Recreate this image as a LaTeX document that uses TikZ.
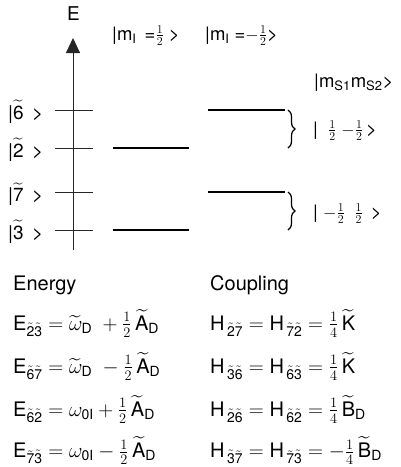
\documentclass[tikz,border=0pt]{standalone}
\usepackage{amsmath}
\usepackage{fontspec}
\setmainfont{TeX Gyre Heros}
\usetikzlibrary{arrows.meta,decorations.pathreplacing}
\newcommand{\tl}[1]{\widetilde{\mathrm{#1}}}
\newcommand{\ts}[1]{\tilde{\mathrm{#1}}}
\newcommand{\rmx}[1]{\mathrm{#1}}
\begin{document}
\begin{tikzpicture}[x=1pt,y=-1pt,
  thinline/.style={line width=0.9pt,black!85},
  levelline/.style={line width=2.6pt},
  bracestyle/.style={decorate,decoration={brace,amplitude=7pt},line width=1.2pt},
  lbl/.style={font=\fontsize{19}{21}\selectfont,inner sep=0pt},
  toplbl/.style={font=\fontsize{18.5}{20}\selectfont,inner sep=0pt,anchor=base west},
  eq/.style={font=\fontsize{20}{24}\selectfont,inner sep=0pt,anchor=base west}]
\useasboundingbox (0,0) rectangle (401,467);
% axis
\coordinate (ab) at (73,250);
\coordinate (at) at (73,38);
\draw[thinline,-{Triangle[width=14pt,length=15pt]}] (ab) -- (at);
\node[lbl,anchor=base] (E) at (73.5,20.5) {E};
% ticks
\foreach \n/\y in {6/110,2/148,7/192,3/230}{
  \coordinate (tl\n) at (55,\y);
  \coordinate (tr\n) at (93,\y);
  \draw[thinline] (tl\n) -- (tr\n);
  \node[lbl,anchor=base west] (s\n) at (8,\y+9) {|$\tl{\n}$\ \,>};
}
% levels
\coordinate (a1) at (113,148); \coordinate (a2) at (189,148);
\coordinate (b1) at (113,230); \coordinate (b2) at (189,230);
\coordinate (c1) at (208,110); \coordinate (c2) at (285,110);
\coordinate (d1) at (208,192); \coordinate (d2) at (285,192);
\draw[levelline] (a1) -- (a2);
\draw[levelline] (b1) -- (b2);
\draw[levelline] (c1) -- (c2);
\draw[levelline] (d1) -- (d2);
% braces
\coordinate (br1t) at (288,110); \coordinate (br1b) at (288,148);
\coordinate (br2t) at (288,192); \coordinate (br2b) at (288,230);
\draw[bracestyle] (br1t) -- (br1b);
\draw[bracestyle] (br2t) -- (br2b);
\node[toplbl] (k1) at (313,135) {|\ \ $\tfrac{1}{2}\;{-}\tfrac{1}{2}$\,>};
\node[toplbl] (k2) at (313,218) {|\ ${-}\tfrac{1}{2}\;\;\tfrac{1}{2}$\ \,>};
% top labels
\node[toplbl] (m1) at (112,40) {|m$_{\rmx{I}}$\ \,=$\tfrac{1}{2}$ >};
\node[toplbl] (m2) at (205,40) {|m$_{\rmx{I}}$ =$-\tfrac{1}{2}$>};
\node[toplbl] (m3) at (314,87) {|m$_{\rmx{S1}}$m$_{\rmx{S2}}$>};
% energy
\node[eq] (en) at (13,290) {Energy};
\node[eq] (e1) at (13,330) {$\rmx{E}_{\ts2\ts3} = \widetilde{\omega}_{\rmx D} \;+ \tfrac{1}{2}\,\tl{A}_{\rmx D}$};
\node[eq] (e2) at (13,373) {$\rmx{E}_{\ts6\ts7} = \widetilde{\omega}_{\rmx D} \;- \tfrac{1}{2}\,\tl{A}_{\rmx D}$};
\node[eq] (e3) at (13,416) {$\rmx{E}_{\ts6\ts2} = \omega_{\rmx{0I}} + \tfrac{1}{2}\,\tl{A}_{\rmx D}$};
\node[eq] (e4) at (13,457.5) {$\rmx{E}_{\ts7\ts3} = \omega_{\rmx{0I}} - \tfrac{1}{2}\,\tl{A}_{\rmx D}$};
% coupling
\node[eq] (cp) at (210,290) {Coupling};
\node[eq] (h1) at (210,330) {$\rmx{H}_{\,\ts2\ts7} = \rmx{H}_{\,\ts7\ts2} = \tfrac{1}{4}\,\tl{K}$};
\node[eq] (h2) at (210,373) {$\rmx{H}_{\,\ts3\ts6} = \rmx{H}_{\,\ts6\ts3} = \tfrac{1}{4}\,\tl{K}$};
\node[eq] (h3) at (210,416) {$\rmx{H}_{\,\ts2\ts6} = \rmx{H}_{\,\ts6\ts2} = \tfrac{1}{4}\,\tl{B}_{\rmx D}$};
\node[eq] (h4) at (210,457.5) {$\rmx{H}_{\,\ts3\ts7} = \rmx{H}_{\,\ts7\ts3} = -\tfrac{1}{4}\,\tl{B}_{\rmx D}$};
\end{tikzpicture}
\end{document}
